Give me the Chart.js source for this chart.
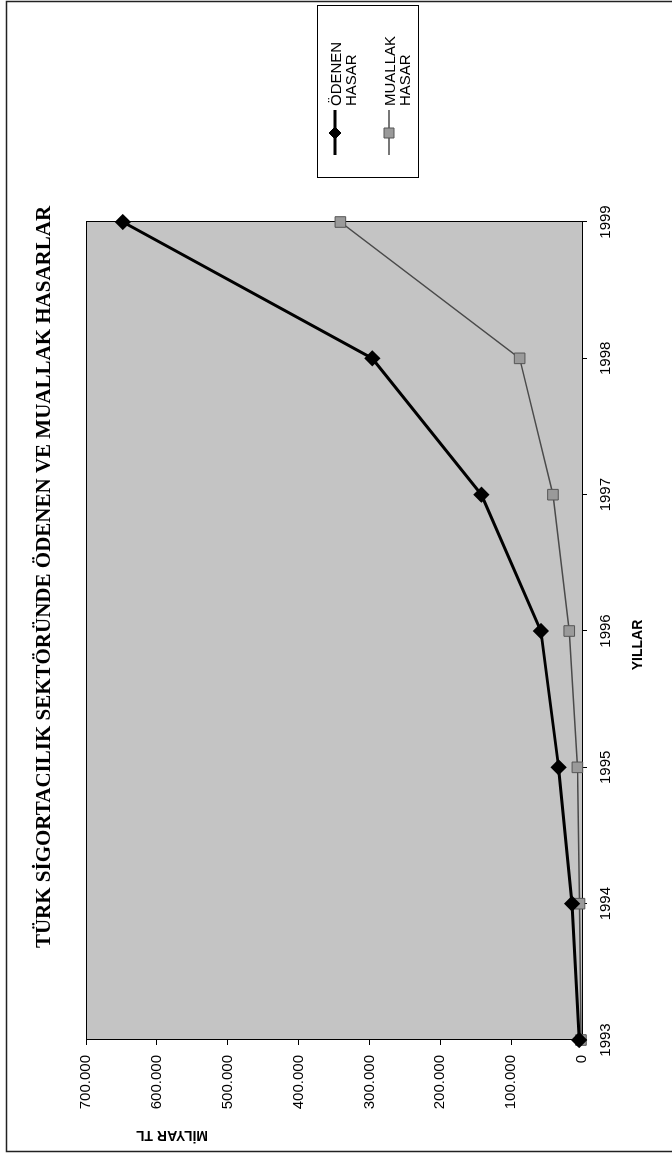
<!DOCTYPE html>
<html>
<head>
<meta charset="utf-8">
<script src="https://cdn.jsdelivr.net/npm/chart.js@4.4.1/dist/chart.umd.min.js"></script>
<style>
  html, body { margin: 0; padding: 0; background: #fff; }
  body { width: 672px; height: 1160px; overflow: hidden; position: relative; }
  /* the chart is drawn landscape and turned a quarter turn, like the scanned page */
  #wrap { position: absolute; left: 0; top: 0; width: 1160px; height: 672px;
          transform-origin: 0 0; transform: translateY(1160px) rotate(-90deg); }
</style>
</head>
<body>
<div id="wrap"><canvas id="hasarChart" width="1160" height="672"></canvas></div>
<script>
const years = ['1993', '1994', '1995', '1996', '1997', '1998', '1999'];
const odenenHasar = [4000, 14000, 33000, 58000, 142000, 296000, 648000];
const muallakHasar = [1500, 3500, 6500, 18000, 41000, 88000, 341000];
const seriesNames = ['ÖDENEN HASAR', 'MUALLAK HASAR'];
const chartTitle = 'TÜRK SİGORTACILIK SEKTÖRÜNDE ÖDENEN VE MUALLAK HASARLAR';
const valueTitle = 'MİLYAR TL';
const yearTitle = 'YILLAR';

const sans = '"Liberation Sans", Arial, sans-serif';
const serif = '"Liberation Serif", "Times New Roman", serif';

function binlik(v) {
    return String(v).replace(/\B(?=(\d{3})+(?!\d))/g, '.');
}

// frame, plot fill, titles and the boxed legend
const decor = {
    id: 'decor',
    beforeDraw(chart) {
        const { ctx, chartArea: a } = chart;
        ctx.save();
        ctx.fillStyle = '#fff';
        ctx.fillRect(0, 0, chart.width, chart.height);
        ctx.strokeStyle = '#222';
        ctx.lineWidth = 1.5;
        ctx.strokeRect(8.5, 6.5, 1150, 700);
        ctx.fillStyle = '#c4c4c4';
        ctx.fillRect(a.left, a.top, a.right - a.left, a.bottom - a.top);
        ctx.restore();
    },
    beforeDatasetsDraw(chart) {
        const { ctx, chartArea: a } = chart;
        ctx.save();
        ctx.strokeStyle = '#000';
        ctx.lineWidth = 1;
        ctx.strokeRect(a.left + 0.5, a.top + 0.5, a.right - a.left, a.bottom - a.top);
        ctx.restore();
    },
    afterDraw(chart) {
        const { ctx } = chart;
        ctx.save();
        ctx.fillStyle = '#000';
        ctx.textBaseline = 'middle';

        ctx.textAlign = 'center';
        ctx.font = 'bold 21px ' + serif;
        ctx.fillText(chartTitle, 583, 45);

        ctx.font = 'bold 14px ' + sans;
        ctx.fillText(yearTitle, 515, 638);

        ctx.save();
        ctx.translate(25, 172);
        ctx.rotate(-Math.PI / 2);
        ctx.fillText(valueTitle, 0, 0);
        ctx.restore();

        // legend
        ctx.strokeStyle = '#000';
        ctx.lineWidth = 1;
        ctx.strokeRect(982.5, 317.5, 172, 101);
        ctx.textAlign = 'left';
        ctx.font = '15px ' + sans;
        chart.data.datasets.forEach((ds, i) => {
            const y = 335 + i * 54;
            ctx.strokeStyle = ds.borderColor;
            ctx.lineWidth = ds.borderWidth;
            ctx.beginPath();
            ctx.moveTo(1005, y);
            ctx.lineTo(1050, y);
            ctx.stroke();
            ctx.fillStyle = ds.pointBackgroundColor;
            ctx.strokeStyle = ds.pointBorderColor;
            ctx.lineWidth = 1;
            ctx.beginPath();
            if (ds.pointStyle === 'rectRot') {
                ctx.moveTo(1027, y - 6);
                ctx.lineTo(1033, y);
                ctx.lineTo(1027, y + 6);
                ctx.lineTo(1021, y);
                ctx.closePath();
            } else {
                ctx.rect(1022, y - 5, 10, 10);
            }
            ctx.fill();
            ctx.stroke();
            ctx.fillStyle = '#000';
            ds.label.split(' ').forEach((w, j) => {
                ctx.fillText(w, 1054, y + 2 + j * 15);
            });
        });
        ctx.restore();
    }
};

const axisFont = { family: sans, size: 15 };

new Chart(document.getElementById('hasarChart'), {
    type: 'line',
    data: {
        labels: years,
        datasets: [
            {
                label: seriesNames[0],
                data: odenenHasar,
                borderColor: '#000',
                borderWidth: 3,
                pointStyle: 'rectRot',
                pointRadius: 6,
                pointBackgroundColor: '#000',
                pointBorderColor: '#000',
                tension: 0,
                clip: false,
            },
            {
                label: seriesNames[1],
                data: muallakHasar,
                borderColor: '#4a4a4a',
                borderWidth: 1.5,
                pointStyle: 'rect',
                pointRadius: 7.5,
                pointBackgroundColor: '#9a9a9a',
                pointBorderColor: '#555',
                pointBorderWidth: 1,
                tension: 0,
                clip: false,
            },
        ],
    },
    options: {
        responsive: false,
        animation: false,
        events: [],
        layout: { padding: { top: 86, right: 222, left: 0, bottom: 0 } },
        plugins: {
            legend: { display: false },
            title: { display: false },
            tooltip: { enabled: false },
        },
        scales: {
            x: {
                type: 'category',
                offset: false,
                border: { display: true, color: '#000', width: 1 },
                grid: { display: true, drawOnChartArea: false, tickLength: 5, color: '#000' },
                ticks: { color: '#000', font: axisFont, padding: 10, maxRotation: 0, autoSkip: false },
                afterFit(s) { s.height = 90; },
            },
            y: {
                min: 0,
                max: 700000,
                border: { display: true, color: '#000', width: 1 },
                grid: { display: true, drawOnChartArea: false, tickLength: 5, color: '#000' },
                ticks: { color: '#000', font: axisFont, padding: 10, stepSize: 100000, callback: binlik },
                afterFit(s) { s.width = 120; },
            },
        },
    },
    plugins: [decor],
});
</script>
</body>
</html>
